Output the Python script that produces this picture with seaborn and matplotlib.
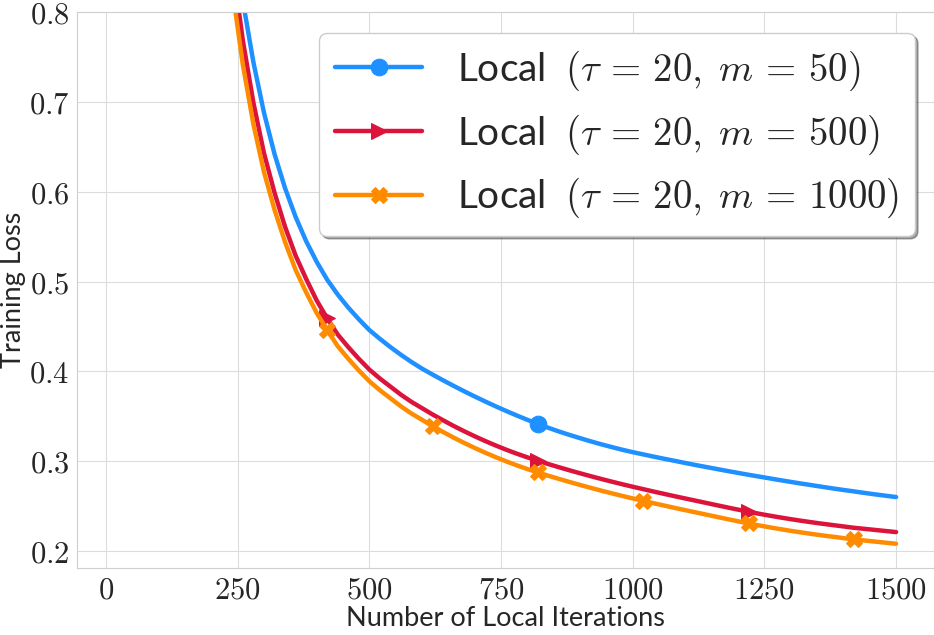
import matplotlib
matplotlib.use('Agg')
import matplotlib.pyplot as plt
import matplotlib.ticker as mticker
import seaborn as sns
import pandas as pd

# Werte (x-Schritt 20, Kurven laufen oben aus dem Bild)
iters = list(range(240, 1501, 20))

loss_m50 = [0.895, 0.812, 0.744, 0.688, 0.642, 0.604, 0.572, 0.545, 0.522, 0.502,
            0.4855, 0.471, 0.458, 0.446, 0.4362, 0.4270, 0.4184, 0.4104, 0.4030, 0.3964,
            0.3900, 0.3838, 0.3778, 0.3720, 0.3664, 0.3610, 0.3558, 0.3508, 0.3460, 0.3414,
            0.3371, 0.3330, 0.3292, 0.3256, 0.3221, 0.3188, 0.3157, 0.3127, 0.3100, 0.3075,
            0.3050, 0.3026, 0.3003, 0.2979, 0.2956, 0.2934, 0.2912, 0.2890, 0.2869, 0.2848,
            0.2828, 0.2808, 0.2788, 0.2769, 0.2750, 0.2732, 0.2714, 0.2696, 0.2679, 0.2663,
            0.2646, 0.2630, 0.2615, 0.2600]

loss_m500 = [0.855, 0.768, 0.699, 0.643, 0.599, 0.561, 0.529, 0.503, 0.479, 0.459,
             0.441, 0.427, 0.414, 0.402, 0.392, 0.383, 0.374, 0.366, 0.359, 0.352,
             0.3455, 0.3392, 0.3333, 0.3277, 0.3224, 0.3174, 0.3127, 0.3083, 0.3042, 0.3004,
             0.2967, 0.2932, 0.2898, 0.2865, 0.2833, 0.2802, 0.2772, 0.2743, 0.2715, 0.2688,
             0.2661, 0.2635, 0.2609, 0.2584, 0.2559, 0.2534, 0.2509, 0.2484, 0.2460, 0.2436,
             0.2414, 0.2393, 0.2373, 0.2354, 0.2336, 0.2319, 0.2303, 0.2288, 0.2273, 0.2258,
             0.2246, 0.2234, 0.2222, 0.2210]

loss_m1000 = [0.825, 0.741, 0.675, 0.622, 0.580, 0.544, 0.513, 0.488, 0.465, 0.446,
              0.428, 0.414, 0.401, 0.389, 0.379, 0.370, 0.361, 0.353, 0.346, 0.339,
              0.3325, 0.3262, 0.3203, 0.3147, 0.3094, 0.3044, 0.2997, 0.2953, 0.2912, 0.2874,
              0.2837, 0.2802, 0.2768, 0.2735, 0.2703, 0.2672, 0.2642, 0.2613, 0.2585, 0.2558,
              0.2531, 0.2505, 0.2479, 0.2454, 0.2429, 0.2404, 0.2379, 0.2354, 0.2330, 0.2306,
              0.2284, 0.2263, 0.2243, 0.2224, 0.2206, 0.2189, 0.2173, 0.2158, 0.2143, 0.2128,
              0.2116, 0.2104, 0.2092, 0.2080]

labels = [r'Local $\;(\tau \,=\, 20,\; m \,=\, 50)$',
          r'Local $\;(\tau \,=\, 20,\; m \,=\, 500)$',
          r'Local $\;(\tau \,=\, 20,\; m \,=\, 1000)$']
marker_x = [[820], [420, 820, 1220], [420, 620, 820, 1020, 1220, 1420]]

x_ticks = [0, 250, 500, 750, 1000, 1250, 1500]
y_ticks = [0.2, 0.3, 0.4, 0.5, 0.6, 0.7, 0.8]

sns.set_style('whitegrid', {'grid.color': '#dcdcdc', 'axes.edgecolor': '#cfcfcf'})
plt.rcParams['font.family'] = ['Lato', 'DejaVu Sans']
plt.rcParams['mathtext.fontset'] = 'cm'

fig = plt.figure(figsize=(9.34, 6.35), dpi=100)
ax = fig.add_axes([0.0824, 0.1055, 0.9176, 0.8755])

colors = ['#1e90ff', '#dc143c', '#ff8c00']
markers = ['o', '>', 'X']
series = [loss_m50, loss_m500, loss_m1000]

for vals, lab, col, mk, mx in zip(series, labels, colors, markers, marker_x):
    df = pd.DataFrame({'iter': iters, 'loss': vals})
    idx = [iters.index(v) for v in mx]
    sns.lineplot(data=df, x='iter', y='loss', ax=ax, color=col, linewidth=3.2,
                 marker=mk, markersize=12, markeredgecolor=col, markevery=idx, label=lab)

ax.set_xlim(-55, 1572)
ax.set_ylim(0.181, 0.8)
ax.set_xticks(x_ticks)
ax.set_yticks(y_ticks)
ax.xaxis.set_major_formatter(mticker.FuncFormatter(lambda v, p: f'${v:g}$'))
ax.yaxis.set_major_formatter(mticker.FuncFormatter(lambda v, p: f'${v:g}$'))
ax.tick_params(axis='both', labelsize=22, pad=2, colors='#262626')

ax.set_xlabel('Number of Local Iterations', fontsize=19.5, labelpad=2)
ax.set_ylabel('Training Loss', fontsize=19.5, labelpad=2)

leg = ax.legend(loc='upper right', bbox_to_anchor=(0.978, 0.962), borderaxespad=0,
                fontsize=28, handlelength=2.25, handletextpad=0.9, frameon=True,
                fancybox=True, shadow=True, framealpha=1, borderpad=0.4, labelspacing=0.5)
leg.get_frame().set_edgecolor('#cccccc')

fig.savefig('out.png', dpi=100)
